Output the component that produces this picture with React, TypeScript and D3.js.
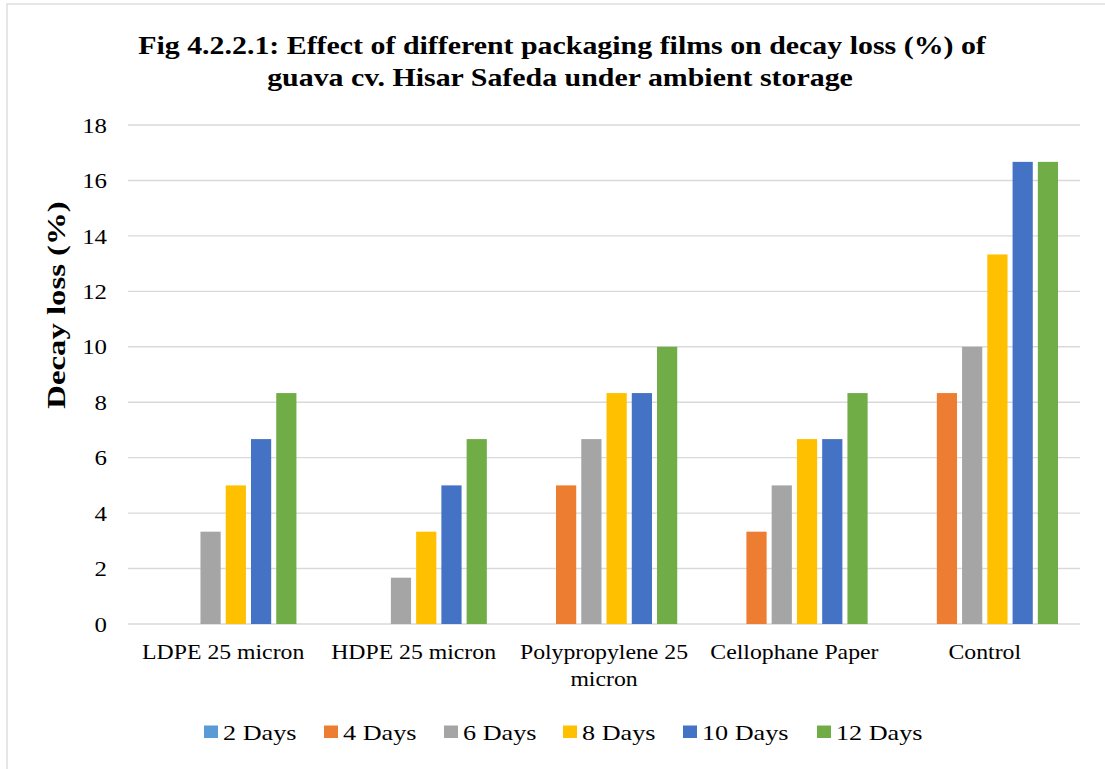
import React from "react";
import * as d3 from "d3";

// Packaging treatments (x categories)
const categories: string[][] = [
  ["LDPE 25 micron"],
  ["HDPE 25 micron"],
  ["Polypropylene 25", "micron"],
  ["Cellophane Paper"],
  ["Control"],
];

// Storage intervals (series)
const seriesNames = ["2 Days", "4 Days", "6 Days", "8 Days", "10 Days", "12 Days"];
const seriesColors = ["#5B9BD5", "#ED7D31", "#A5A5A5", "#FFC000", "#4472C4", "#70AD47"];

// Decay loss (%) per series, one value per category
const days2 = [0, 0, 0, 0, 0];
const days4 = [0, 0, 5, 3.33, 8.33];
const days6 = [3.33, 1.67, 6.67, 5, 10];
const days8 = [5, 3.33, 8.33, 6.67, 13.33];
const days10 = [6.67, 5, 8.33, 6.67, 16.67];
const days12 = [8.33, 6.67, 10, 8.33, 16.67];
const seriesValues = [days2, days4, days6, days8, days10, days12];

const yTicks = [0, 2, 4, 6, 8, 10, 12, 14, 16, 18];

const W = 1105;
const H = 769;
const plot = { left: 128, right: 1080, top: 125, bottom: 624 };
const FONT = "'Liberation Serif', 'Times New Roman', serif";

// Text drawn with a horizontal stretch around its anchor point
function SText(props: {
  x: number;
  y: number;
  sx: number;
  size: number;
  anchor?: "start" | "middle" | "end";
  bold?: boolean;
  dy?: string;
  rotate?: number;
  children: React.ReactNode;
}) {
  const { x, y, sx, size, anchor = "start", bold, dy, rotate = 0, children } = props;
  return (
    <text
      transform={`translate(${x},${y}) rotate(${rotate}) scale(${sx},1)`}
      textAnchor={anchor}
      fontSize={size}
      fontWeight={bold ? "bold" : "normal"}
      dy={dy}
      fill="#000"
    >
      {children}
    </text>
  );
}

export default function App() {
  const catKeys = categories.map((c) => c.join(" "));
  const x0 = d3.scaleBand<string>().domain(catKeys).range([plot.left, plot.right]).padding(0);
  const x1 = d3
    .scaleBand<string>()
    .domain(seriesNames)
    .range([0, x0.bandwidth()])
    .paddingInner(0.2)
    .paddingOuter(0.87);
  const y = d3.scaleLinear().domain([0, 18]).range([plot.bottom, plot.top]);

  // legend layout
  const legendY = 732;
  const legendStarts = [204, 324, 444, 563, 683, 817];

  return (
    <svg
      width={W}
      height={H}
      style={{ position: "absolute", left: 0, top: 0, background: "#fff" }}
      fontFamily={FONT}
    >
      <rect x={7} y={4} width={W + 20} height={H + 20} fill="#fff" stroke="#d9d9d9" strokeWidth={1.3} />

      {/* Title */}
      <SText x={562} y={54} sx={1.15} size={26} anchor="middle" bold>
        Fig 4.2.2.1: Effect of different packaging films on decay loss (%) of
      </SText>
      <SText x={560} y={86} sx={1.15} size={26} anchor="middle" bold>
        guava cv. Hisar Safeda under ambient storage
      </SText>

      {/* Gridlines and y tick labels */}
      {yTicks.map((t) => (
        <g key={t}>
          <line x1={plot.left} x2={plot.right} y1={y(t)} y2={y(t)} stroke="#d9d9d9" strokeWidth={1.4} />
          <SText x={107} y={y(t)} sx={1.13} size={22} anchor="end" dy="0.35em">
            {t}
          </SText>
        </g>
      ))}

      {/* Bars */}
      {seriesNames.map((s, si) => (
        <g key={s} fill={seriesColors[si]}>
          {seriesValues[si].map((v, ci) =>
            v > 0 ? (
              <rect
                key={ci}
                x={(x0(catKeys[ci]) as number) + (x1(s) as number)}
                y={y(v)}
                width={x1.bandwidth()}
                height={y(0) - y(v)}
              />
            ) : null
          )}
        </g>
      ))}

      {/* Category labels */}
      {categories.map((lines, ci) =>
        lines.map((l, li) => (
          <SText
            key={`${ci}-${li}`}
            x={(x0(catKeys[ci]) as number) + x0.bandwidth() / 2}
            y={659 + li * 27}
            sx={1.08}
            size={22}
            anchor="middle"
          >
            {l}
          </SText>
        ))
      )}

      {/* Y axis title */}
      <SText x={65} y={305} sx={1.26} size={26} anchor="middle" bold rotate={-90}>
        Decay loss (%)
      </SText>

      {/* Legend */}
      {seriesNames.map((s, si) => (
        <g key={s}>
          <rect x={legendStarts[si]} y={legendY - 6.5} width={14} height={12.5} fill={seriesColors[si]} />
          <SText x={legendStarts[si] + 19} y={legendY} sx={1.19} size={22} dy="0.35em">
            {s}
          </SText>
        </g>
      ))}
    </svg>
  );
}
